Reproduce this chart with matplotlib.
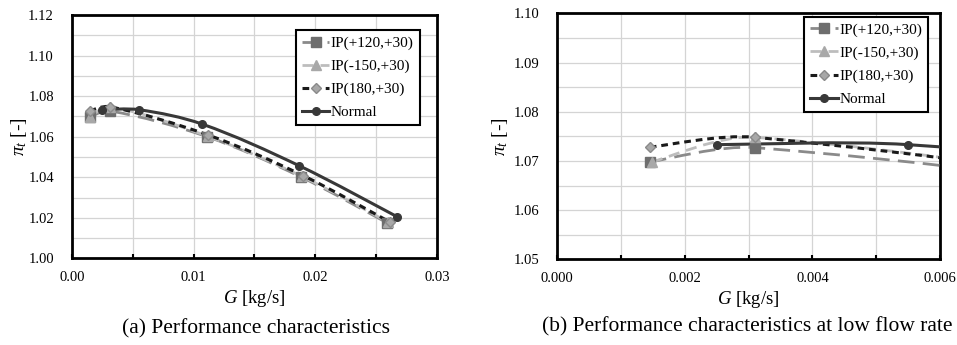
import numpy as np
import matplotlib
matplotlib.use("Agg")
import matplotlib.pyplot as plt
from matplotlib.path import Path
from matplotlib.patches import PathPatch
from matplotlib.lines import Line2D
from matplotlib.ticker import MultipleLocator, FormatStrFormatter

plt.rcParams['font.family'] = ['Liberation Serif', 'DejaVu Serif']
plt.rcParams['mathtext.fontset'] = 'custom'
plt.rcParams['mathtext.rm'] = 'Liberation Serif'
plt.rcParams['mathtext.it'] = 'Liberation Serif:italic'

# values
g_120 = [0.00145, 0.0031, 0.0111, 0.0188, 0.0259]
pi_120 = [1.0698, 1.0727, 1.0600, 1.0402, 1.0175]
g_150 = [0.00148, 0.0031, 0.0112, 0.0189, 0.0260]
pi_150 = [1.0698, 1.0748, 1.0601, 1.0404, 1.0178]
g_180 = [0.00145, 0.0031, 0.0112, 0.0190, 0.0261]
pi_180 = [1.0728, 1.0748, 1.0608, 1.0408, 1.0180]
g_norm = [0.0025, 0.0055, 0.0107, 0.0187, 0.0267]
pi_norm = [1.0733, 1.0733, 1.0662, 1.0456, 1.0206]

labels = ["IP(+120,+30)", "IP(-150,+30)", "IP(180,+30)", "Normal"]
captions = ["(a) Performance characteristics",
            "(b) Performance characteristics at low flow rate"]

series = [
    # x, y, line color, dashes, line width, marker, marker face, marker edge, msize
    (g_120, pi_120, "#8a8a8a", (6, 3), 2.0, "s", "#6e6e6e", "#6e6e6e", 6.5),
    (g_150, pi_150, "#bdbdbd", (4, 2.5), 2.0, "^", "#a8a8a8", "#a8a8a8", 6.5),
    (g_180, pi_180, "#1a1a1a", (2.2, 1.6), 2.2, "D", "#a8a8a8", "#8a8a8a", 5.5),
    (g_norm, pi_norm, "#383838", None, 2.2, "o", "#383838", "#383838", 5.5),
]


def smooth_path(ax, x, y, k=1.0):
    # Excel-like smoothed line: cubic Bezier through the points, built in screen space
    tr = ax.transData
    p = tr.transform(np.column_stack([x, y]))
    n = len(p)
    d = [np.hypot(*(p[i + 1] - p[i])) for i in range(n - 1)]
    tang = []
    for i in range(n):
        a = p[i - 1] if i > 0 else p[i]
        b = p[i + 1] if i < n - 1 else p[i]
        tang.append(b - a)
    verts = [p[0]]
    codes = [Path.MOVETO]
    for i in range(n - 1):
        dp = d[i - 1] if i > 0 else d[i]
        dn = d[i + 1] if i + 1 < n - 1 else d[i]
        c1 = p[i] + tang[i] * k * d[i] / (dp + d[i]) / 3
        c2 = p[i + 1] - tang[i + 1] * k * d[i] / (d[i] + dn) / 3
        verts += [c1, c2, p[i + 1]]
        codes += [Path.CURVE4] * 3
    verts = tr.inverted().transform(np.array(verts))
    return Path(verts, codes)


def draw_panel(ax, xlim, ylim, xmaj, xmin, ymaj, ymin, xfmt, leg_anchor, ylx):
    ax.set_xlim(*xlim)
    ax.set_ylim(*ylim)
    for x, y, lc, dash, lw, m, mf, me, ms in series:
        ls = (0, dash) if dash else "-"
        ax.add_patch(PathPatch(smooth_path(ax, x, y), facecolor="none", edgecolor=lc,
                               linewidth=lw, linestyle=ls, zorder=3,
                               capstyle="butt"))
        ax.plot(x, y, linestyle="none", marker=m, markerfacecolor=mf,
                markeredgecolor=me, markersize=ms, zorder=4)

    ax.xaxis.set_major_locator(MultipleLocator(xmaj))
    ax.xaxis.set_minor_locator(MultipleLocator(xmin))
    ax.yaxis.set_major_locator(MultipleLocator(ymaj))
    ax.yaxis.set_minor_locator(MultipleLocator(ymin))
    ax.xaxis.set_major_formatter(FormatStrFormatter(xfmt))
    ax.yaxis.set_major_formatter(FormatStrFormatter("%.2f"))
    ax.grid(which="both", color="#d4d4d4", linewidth=0.9, zorder=0)
    ax.set_axisbelow(True)
    ax.tick_params(axis="x", which="both", direction="in", length=3, width=1.5,
                   labelsize=10.5, pad=9, top=False)
    ax.tick_params(axis="y", which="both", length=0, labelsize=10.5, pad=13)
    for s in ax.spines.values():
        s.set_linewidth(2.0)
        s.set_color("black")

    ax.set_xlabel(r"$G$ [kg/s]", fontsize=13.5, labelpad=3)
    ax.set_ylabel(r"$\pi_t$ [-]", fontsize=14)
    ax.yaxis.set_label_coords(ylx, 0.5)

    handles = []
    for x, y, lc, dash, lw, m, mf, me, ms in series:
        handles.append(Line2D([], [], color=lc, linewidth=lw,
                              linestyle=(0, dash) if dash else "-",
                              marker=m, markerfacecolor=mf, markeredgecolor=me,
                              markersize=ms))
    leg = ax.legend(handles, labels, loc="upper right", bbox_to_anchor=leg_anchor,
                    fontsize=11, frameon=True, fancybox=False, framealpha=1,
                    edgecolor="black", handlelength=1.8, handletextpad=0.1,
                    borderpad=0.4, labelspacing=0.6, borderaxespad=0.0)
    leg.get_frame().set_linewidth(1.5)


fig = plt.figure(figsize=(9.57, 3.45), dpi=100)
ax1 = fig.add_axes([0.0752, 0.2512, 0.3814, 0.7053])
ax2 = fig.add_axes([0.5823, 0.2484, 0.4000, 0.7130])

draw_panel(ax1, (0, 0.03), (1.00, 1.12), 0.01, 0.005, 0.02, 0.01, "%.2f",
           (0.953, 0.938), -0.118)
draw_panel(ax2, (0, 0.006), (1.05, 1.10), 0.002, 0.001, 0.01, 0.005, "%.3f",
           (0.969, 0.985), -0.123)

fig.text(256 / 957, 1 - 329 / 345, captions[0], ha="center", va="center", fontsize=15.5)
fig.text(747 / 957, 1 - 327 / 345, captions[1], ha="center", va="center", fontsize=15.5)

fig.savefig("out.png", dpi=100, facecolor="white")
